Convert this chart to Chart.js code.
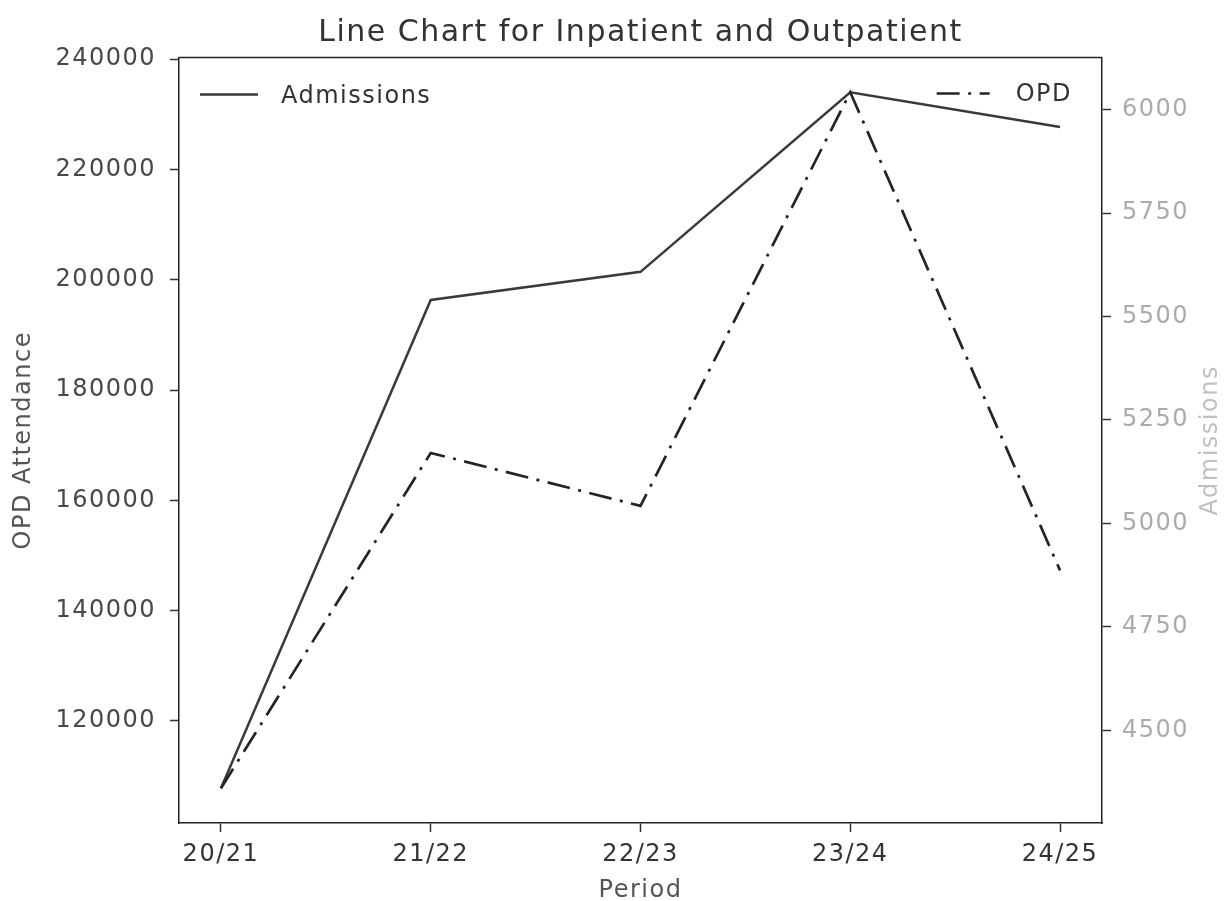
<!DOCTYPE html>
<html>
<head>
<meta charset="utf-8">
<script src="https://cdn.jsdelivr.net/npm/chart.js@4.4.1/dist/chart.umd.min.js"></script>
<style>
  html, body { margin: 0; padding: 0; background: #ffffff; }
  canvas { display: block; }
</style>
</head>
<body>
<canvas id="chart" width="1225" height="901"></canvas>
<script>
// Yearly hospital activity
const periods = ['20/21', '21/22', '22/23', '23/24', '24/25'];
const admissions = [4360, 5540, 5608, 6042, 5958];
const opdAttendance = [107800, 168600, 159000, 234000, 147300];

// Axis tick values
const opdTicks = [120000, 140000, 160000, 180000, 200000, 220000, 240000];
const admissionTicks = [4500, 4750, 5000, 5250, 5500, 5750, 6000];

const FONT = 'DejaVu Sans';

// Autoscaled range with a 5% margin on both ends
function paddedRange(values, frac) {
  const lo = Math.min(...values);
  const hi = Math.max(...values);
  const pad = (hi - lo) * frac;
  return { min: lo - pad, max: hi + pad };
}
const opdRange = paddedRange(opdAttendance, 0.05);
const admRange = paddedRange(admissions, 0.05);
const xPad = (periods.length - 1) * 0.05;

const toPoints = (vals) => vals.map((v, i) => ({ x: i, y: v }));

const DASH_DOT = [23, 8.5, 3, 8.5];

// Slightly wider glyph spacing for all canvas text
const spacingPlugin = {
  id: 'spacing',
  beforeUpdate(chart) { chart.ctx.letterSpacing = '1.5px'; },
  beforeDraw(chart) { chart.ctx.letterSpacing = '1.5px'; }
};

// Top spine, the two corner legends and the right-hand axis title
const framePlugin = {
  id: 'frame',
  afterDraw(chart) {
    const { ctx, chartArea } = chart;
    const { left, right, top, bottom } = chartArea;
    ctx.save();
    ctx.letterSpacing = '1.5px';

    ctx.strokeStyle = '#222';
    ctx.lineWidth = 1.5;
    ctx.beginPath();
    ctx.moveTo(left, top);
    ctx.lineTo(right, top);
    ctx.stroke();

    ctx.font = `24px "${FONT}"`;
    ctx.textBaseline = 'middle';

    const drawSample = (ds, x0, x1, y) => {
      ctx.save();
      ctx.strokeStyle = ds.borderColor;
      ctx.lineWidth = ds.borderWidth;
      ctx.setLineDash(ds.borderDash || []);
      ctx.lineCap = 'butt';
      ctx.beginPath();
      ctx.moveTo(x0, y);
      ctx.lineTo(x1, y);
      ctx.stroke();
      ctx.restore();
    };

    const admDs = chart.data.datasets[1];
    const opdDs = chart.data.datasets[0];

    // Upper-left entry
    const yL = top + 37;
    drawSample(admDs, left + 21, left + 79, yL);
    ctx.fillStyle = '#333';
    ctx.textAlign = 'left';
    ctx.fillText(admDs.label, left + 102, yL + 2);

    // Upper-right entry
    const yR = top + 36;
    const textW = ctx.measureText(opdDs.label).width;
    const textX = right - 30 - textW;
    drawSample(opdDs, textX - 79, textX - 26, yR);
    ctx.fillStyle = '#333';
    ctx.fillText(opdDs.label, textX, yR + 1);

    // Right axis title, reading bottom to top
    const t = chart.options.scales.y1.title;
    ctx.translate(1211, (top + bottom) / 2);
    ctx.rotate(-Math.PI / 2);
    ctx.textAlign = 'center';
    ctx.fillStyle = '#c0c0c0';
    ctx.fillText(t.text, 0, 0);
    ctx.restore();
  }
};

const tickGrid = {
  display: true,
  drawOnChartArea: false,
  drawTicks: true,
  tickLength: 9,
  tickWidth: 1.5,
  tickColor: '#333'
};
const spine = { display: true, color: '#222', width: 1.5 };

new Chart(document.getElementById('chart'), {
  type: 'line',
  data: {
    datasets: [
      {
        label: 'OPD',
        data: toPoints(opdAttendance),
        yAxisID: 'y',
        borderColor: '#242424',
        borderWidth: 2.7,
        borderDash: DASH_DOT,
        pointRadius: 0,
        tension: 0,
        fill: false
      },
      {
        label: 'Admissions',
        data: toPoints(admissions),
        yAxisID: 'y1',
        borderColor: '#3a3a3a',
        borderWidth: 2.5,
        pointRadius: 0,
        tension: 0,
        fill: false
      }
    ]
  },
  options: {
    responsive: false,
    animation: false,
    layout: { padding: 0 },
    plugins: {
      legend: { display: false },
      tooltip: { enabled: false },
      title: {
        display: true,
        fullSize: false,
        text: 'Line Chart for Inpatient and Outpatient',
        color: '#333',
        font: { family: FONT, size: 30, weight: 'normal', lineHeight: 1.2 },
        padding: { top: 15, bottom: 6.5 }
      }
    },
    scales: {
      x: {
        type: 'linear',
        min: -xPad,
        max: periods.length - 1 + xPad,
        afterBuildTicks: (s) => { s.ticks = periods.map((_, i) => ({ value: i })); },
        ticks: {
          callback: (v) => periods[v],
          autoSkip: false,
          maxRotation: 0,
          color: '#333',
          padding: 8,
          font: { family: FONT, size: 24 }
        },
        grid: tickGrid,
        border: spine,
        title: {
          display: true,
          text: 'Period',
          color: '#555',
          font: { family: FONT, size: 24, lineHeight: 0.83 },
          padding: { top: 0, bottom: 0 }
        },
        afterFit: (s) => { s.height = 78; }
      },
      y: {
        type: 'linear',
        position: 'left',
        min: opdRange.min,
        max: opdRange.max,
        afterBuildTicks: (s) => { s.ticks = opdTicks.map((v) => ({ value: v })); },
        ticks: {
          callback: (v) => String(v),
          color: '#484848',
          padding: 14,
          font: { family: FONT, size: 24 }
        },
        grid: tickGrid,
        border: spine,
        title: {
          display: true,
          text: 'OPD Attendance',
          color: '#555',
          font: { family: FONT, size: 24, lineHeight: 1.2 },
          padding: { top: 9, bottom: 0 }
        },
        afterFit: (s) => { s.width = 179; }
      },
      y1: {
        type: 'linear',
        position: 'right',
        min: admRange.min,
        max: admRange.max,
        afterBuildTicks: (s) => { s.ticks = admissionTicks.map((v) => ({ value: v })); },
        ticks: {
          callback: (v) => String(v),
          color: '#ababab',
          padding: 11,
          font: { family: FONT, size: 24 }
        },
        grid: tickGrid,
        border: spine,
        title: { display: false, text: 'Admissions' },
        afterFit: (s) => { s.width = 123; }
      }
    }
  },
  plugins: [spacingPlugin, framePlugin]
});
</script>
</body>
</html>
